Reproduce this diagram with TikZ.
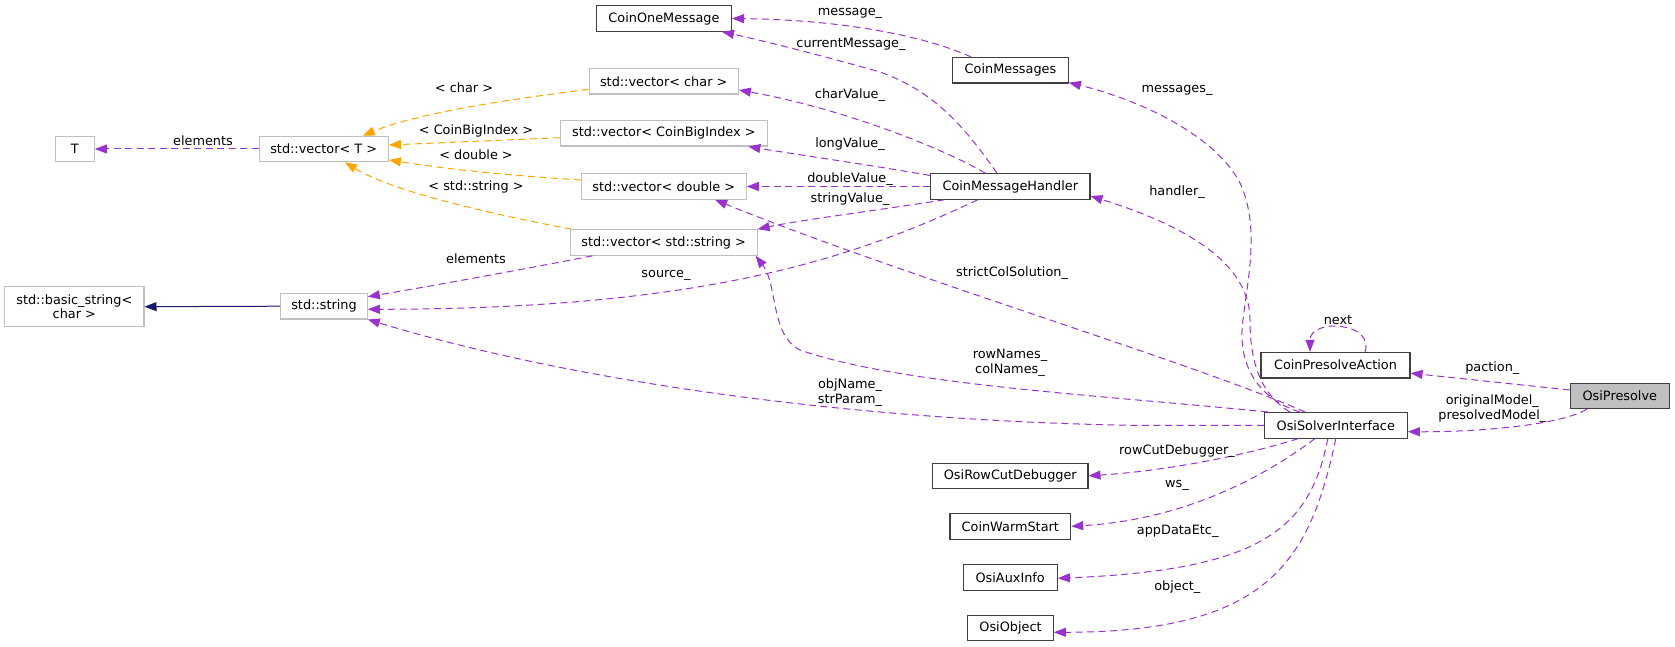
\documentclass[tikz,border=0pt]{standalone}
\usepackage{fontspec}
\setmainfont{DejaVu Sans}
\usetikzlibrary{arrows.meta}
\definecolor{edgepurple}{HTML}{9A32CD}
\definecolor{edgeorange}{HTML}{FFA500}
\definecolor{edgenavy}{HTML}{191970}
\definecolor{graybox}{HTML}{BFBFBF}
\definecolor{darkbox}{HTML}{404040}
\begin{document}
\begin{tikzpicture}[x=1pt,y=-1pt,
  every node/.style={font=\fontsize{12.85}{13.5}\selectfont, inner sep=0pt, text=black},
  cls/.style={draw=darkbox, line width=1.1pt, minimum height=25.5pt, fill=white},
  ucls/.style={draw=graybox, line width=1.1pt, minimum height=25.5pt, fill=white},
  hcls/.style={draw=darkbox, line width=1.1pt, minimum height=25.5pt, fill=graybox},
  uses/.style={draw=edgepurple, line width=1pt, dash pattern=on 7pt off 4.5pt, -{Triangle[length=12pt,width=9pt]}},
  tmpl/.style={uses, draw=edgeorange},
  inh/.style={draw=edgenavy, line width=1pt, -{Triangle[length=12pt,width=9pt]}},
  lbl/.style={font=\fontsize{12.85}{15}\selectfont, align=center}
]
\useasboundingbox (0,0) rectangle (1675,647);

% nodes
\node[ucls, minimum width=39.3pt] (T) at (74.7,149) {T};
\node[ucls, minimum width=129.3pt] (vecT) at (323.7,149) {std::vector< T >};
\node[ucls, minimum width=139.3pt, minimum height=40pt, align=center] (bstr) at (74.3,306.7) {std::basic\_string<\\char >};
\node[ucls, minimum width=86.6pt] (str) at (324,306.2) {std::string};
\node[ucls, minimum width=149.3pt] (vchar) at (663.7,81.3) {std::vector< char >};
\node[ucls, minimum width=207pt] (vbig) at (663.8,133.3) {std::vector< CoinBigIndex >};
\node[ucls, minimum width=165pt] (vdbl) at (663.8,186.5) {std::vector< double >};
\node[ucls, minimum width=186.7pt] (vstr) at (663.7,242.5) {std::vector< std::string >};
\node[cls, minimum width=135pt] (com) at (664,18.5) {CoinOneMessage};
\node[cls, minimum width=115.6pt] (cms) at (1010.5,70.3) {CoinMessages};
\node[cls, minimum width=159.3pt] (cmh) at (1010.3,186.5) {CoinMessageHandler};
\node[cls, minimum width=149pt] (cpa) at (1335.5,365.2) {CoinPresolveAction};
\node[hcls, minimum width=99pt] (osip) at (1619.8,396) {OsiPresolve};
\node[cls, minimum width=143pt] (osi) at (1335.8,425.3) {OsiSolverInterface};
\node[cls, minimum width=155.3pt] (orcd) at (1010.3,475.8) {OsiRowCutDebugger};
\node[cls, minimum width=120.7pt] (cws) at (1010.3,526.3) {CoinWarmStart};
\node[cls, minimum width=94.3pt] (oai) at (1010.2,577.3) {OsiAuxInfo};
\node[cls, minimum width=85.6pt] (oobj) at (1010.5,627.8) {OsiObject};

% edges
\draw[uses] (vecT.west) -- (T.east);
\draw[tmpl] ([yshift=-8pt]vchar.west) .. controls (520,98) and (420,112) .. ([xshift=39pt]vecT.north);
\draw[tmpl] ([yshift=-4.4pt]vbig.west) -- ([yshift=4pt]vecT.east);
\draw[tmpl] ([yshift=6.5pt]vdbl.west) .. controls (500,175) and (440,168) .. ([yshift=-11pt]vecT.east);
\draw[tmpl] ([xshift=2pt]vstr.north west) .. controls (480,212) and (390,190) .. ([xshift=21.3pt]vecT.south);
\draw[uses] ([xshift=22.7pt]vstr.south west) .. controls (520,270) and (420,288) .. ([yshift=9.5pt]str.east);
\draw[uses] ([xshift=47.6pt]cmh.south west) .. controls (850,260) and (700,309) .. ([yshift=-3.1pt]str.east);
\draw[uses] (osi.west) -- (1150,425.5) .. controls (900,423) and (600,390) .. (str.south east);
\draw[inh] (str.west) -- (bstr.east);
\draw[uses] ([xshift=4pt]osi.north west) .. controls (1100,395) and (900,385) .. (800,350) .. controls (770,335) and (778,285) .. ([xshift=-2pt]vstr.south east);
\draw[uses] ([xshift=-30.8pt]osi.north) .. controls (1200,365) and (900,275) .. ([xshift=51.2pt]vdbl.south);
\draw[uses] ([xshift=-13.3pt]cmh.north) .. controls (960,120) and (930,90) .. (880,72) .. controls (820,55) and (760,40) .. ([xshift=58pt]com.south);
\draw[uses] ([xshift=19pt]cms.north west) .. controls (930,38) and (850,20) .. (com.east);
\draw[uses] ([xshift=-25pt]cmh.north) .. controls (950,152) and (850,110) .. ([yshift=-8.7pt]vchar.east);
\draw[uses] ([yshift=11pt]cmh.west) .. controls (870,165) and (800,155) .. ([xshift=84.5pt]vbig.south);
\draw[uses] (cmh.west) -- (vdbl.east);
\draw[uses] ([xshift=14.3pt]cmh.south west) .. controls (880,210) and (800,220) .. (vstr.north east);
\draw[uses] ([xshift=-46pt]osi.north) .. controls (1262,395) and (1250,365) .. (1250,320) .. controls (1250,270) and (1200,230) .. ([yshift=-9.5pt]cmh.east);
\draw[uses] ([xshift=-36pt]osi.north) .. controls (1262,400) and (1240,370) .. (1242,330) .. controls (1245,290) and (1262,230) .. (1240,183) .. controls (1215,135) and (1140,100) .. ([yshift=1pt]cms.south east);
\draw[uses] ([yshift=6pt]osip.west) -- ([yshift=-8pt]cpa.east);
\draw[uses] ([xshift=-33pt]osip.south) .. controls (1560,425) and (1480,432) .. ([yshift=-6.4pt]osi.east);
\draw[uses] ([xshift=29.5pt]cpa.north) .. controls (1375,322) and (1310,318) .. ([xshift=-25.5pt]cpa.north);
\draw[uses] ([xshift=-37.5pt]osi.south) .. controls (1230,460) and (1150,472) .. (orcd.east);
\draw[uses] ([xshift=-21pt]osi.south) .. controls (1260,480) and (1180,520) .. (cws.east);
\draw[uses] ([xshift=-8pt]osi.south) .. controls (1310,530) and (1260,570) .. ([yshift=-1pt]oai.east);
\draw[uses] (osi.south) .. controls (1310,560) and (1270,632) .. ([yshift=-4.5pt]oobj.east);

% labels
\node[lbl] (l1) at (203,140.7) {elements};
\node[lbl] (l2) at (464,87.3) {< char >};
\node[lbl] (l3) at (476,131) {< CoinBigIndex >};
\node[lbl] (l4) at (476,155) {< double >};
\node[lbl] (l5) at (476,187.3) {< std::string >};
\node[lbl] (l6) at (476,258.3) {elements};
\node[lbl] (l7) at (666,275.3) {source\_};
\node[lbl] (l8) at (850,13.3) {message\_};
\node[lbl] (l9) at (851,44.3) {currentMessage\_};
\node[lbl] (l10) at (850,95) {charValue\_};
\node[lbl] (l11) at (850,144) {longValue\_};
\node[lbl] (l12) at (850,179) {doubleValue\_};
\node[lbl] (l13) at (850,199) {stringValue\_};
\node[lbl] (l14) at (1177,90.7) {messages\_};
\node[lbl] (l15) at (1177,191.7) {handler\_};
\node[lbl] (l16) at (1012,273) {strictColSolution\_};
\node[lbl] (l17) at (1010,362.5) {rowNames\_\\colNames\_};
\node[lbl] (l18) at (850,392.3) {objName\_\\strParam\_};
\node[lbl] (l19) at (1338,320) {next};
\node[lbl] (l20) at (1492.3,368.3) {paction\_};
\node[lbl] (l21) at (1492.3,408.3) {originalModel\_\\presolvedModel\_};
\node[lbl] (l22) at (1177,450.7) {rowCutDebugger\_};
\node[lbl] (l23) at (1177,485) {ws\_};
\node[lbl] (l24) at (1177.7,531.7) {appDataEtc\_};
\node[lbl] (l25) at (1177.3,586.7) {object\_};
\end{tikzpicture}
\end{document}
